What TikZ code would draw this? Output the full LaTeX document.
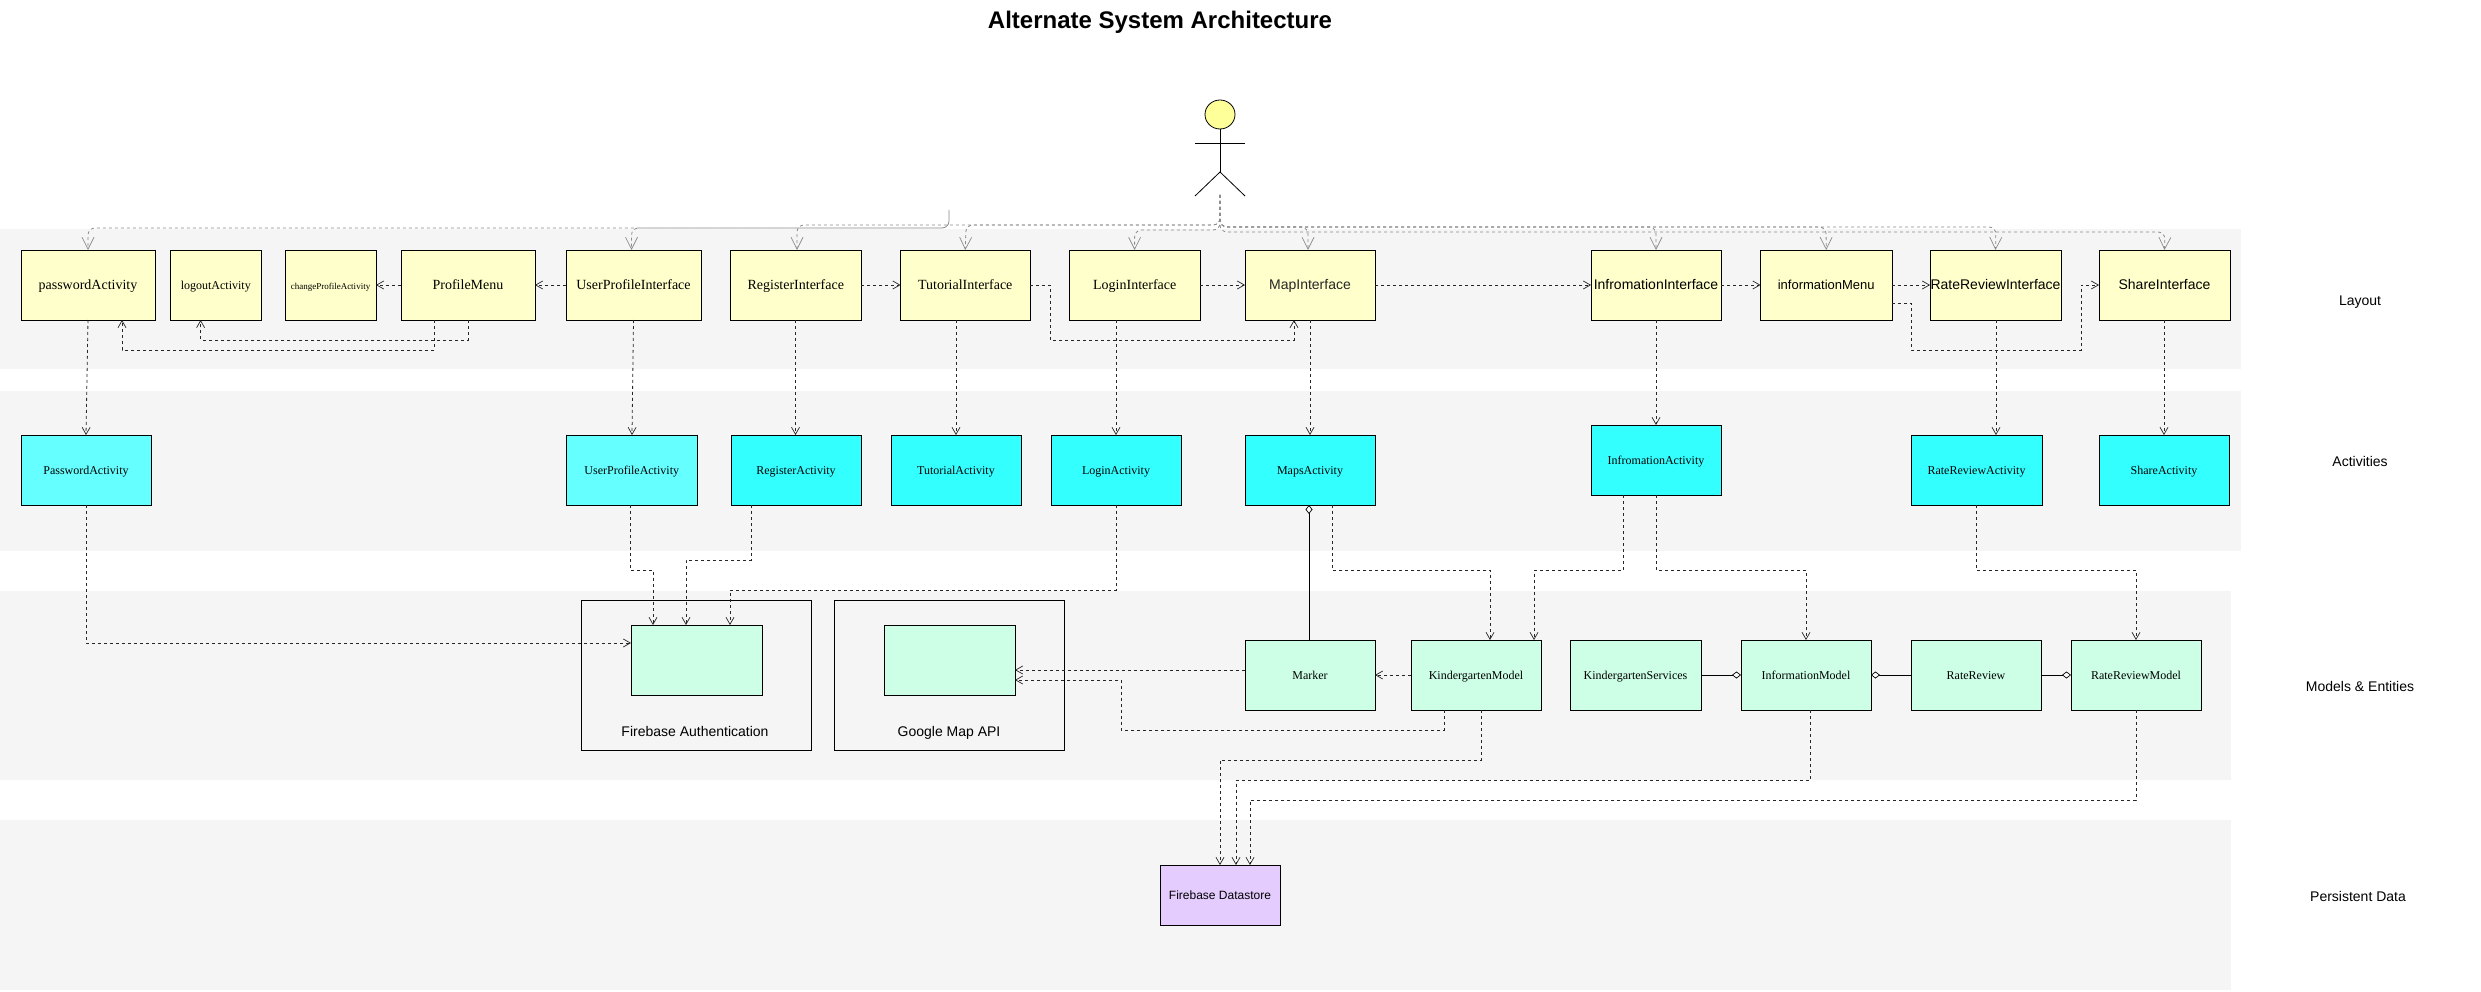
\documentclass[tikz,border=0pt]{standalone}
\usepackage{fontspec}
\setmainfont{Liberation Serif}
\setsansfont{Liberation Sans}
\usetikzlibrary{arrows.meta,shapes.geometric}
\definecolor{bandc}{HTML}{F5F5F5}
\definecolor{yel}{HTML}{FFFFCC}
\definecolor{cyn}{HTML}{33FFFF}
\definecolor{cynl}{HTML}{66FFFF}
\definecolor{grn}{HTML}{CCFFE6}
\definecolor{pur}{HTML}{E5CCFF}
\definecolor{headc}{HTML}{FFFF99}
\definecolor{fang}{HTML}{8C8C8C}
\newcommand\bx[7]{\node[#1,minimum width={(#5-#3)*1pt},minimum height={(#6-#4)*1pt}] (#2) at ({(#3+#5)/2},{(#4+#6)/2}) {#7};}
\newcommand\fsz[1]{\fontsize{#1}{#1}\selectfont}
\tikzset{
  box/.style={draw=black,line width=0.9pt,inner sep=0pt,outer sep=0pt,rectangle,text height=12pt,text depth=3pt},
  ybox/.style={box,fill=yel,font=\fsz{14}},
  cbox/.style={box,fill=cyn,font=\fsz{12},text height=11pt,text depth=3pt},
  lbox/.style={box,fill=cynl,font=\fsz{12},text height=11pt,text depth=3pt},
  gbox/.style={box,fill=grn,font=\fsz{12},text height=11pt,text depth=3pt},
  pbox/.style={box,fill=pur,font=\sffamily\fsz{12},text height=11pt,text depth=3pt},
  sanstxt/.style={font=\sffamily\fsz{14}},
  lane/.style={font=\sffamily\fsz{14},inner sep=0pt,text height=10pt,text depth=3pt},
  frame/.style={draw=black,line width=0.8pt,inner sep=0pt,outer sep=0pt,rectangle},
  dep/.style={draw=black!85,line width=0.8pt,dash pattern=on 3pt off 3pt,-{Straight Barb[length=7pt,width=8pt,line width=0.7pt]}},
  fan/.style={draw=fang,line width=0.8pt,dash pattern=on 3pt off 3pt,rounded corners=7pt,-{Straight Barb[length=12pt,width=12pt,line width=0.7pt]}},
  agg/.style={draw=black,line width=0.9pt,-{Diamond[fill=white,length=9pt,width=7pt,line width=0.7pt]}},
}
\begin{document}
\begin{tikzpicture}[x=1pt,y=-1pt]
\useasboundingbox[fill=white] (0,0) rectangle (2481,992);
% lanes
\fill[bandc] (0,229) rectangle (2241,369);
\fill[bandc] (0,391) rectangle (2241,551);
\fill[bandc] (0,591) rectangle (2231,780);
\fill[bandc] (0,820) rectangle (2231,990);
\node[font=\sffamily\bfseries\fsz{24},inner sep=0pt] (title) at (1160,22) {Alternate System Architecture};
\node[lane] (l1) at (2360,302) {Layout};
\node[lane] (l2) at (2360,463) {Activities};
\node[lane] (l3) at (2360,688) {Models \& Entities};
\node[lane] (l4) at (2358,898) {Persistent Data};
% actor
\node[draw=black,fill=headc,ellipse,line width=0.8pt,inner sep=0pt,minimum width=30pt,minimum height=29pt,outer sep=0pt] (actor) at (1220,114.5) {};
\coordinate (hip) at (1220,172);
\coordinate (af) at (1220,195);
\draw[line width=0.8pt] (actor.south) -- (hip);
\draw[line width=0.8pt] (1195,143) -- (1245,143);
\draw[line width=0.8pt] (1195,196) -- (hip) -- (1245,196);
% row 1
\bx{ybox}{pwi}{21}{250}{155}{320}{passwordActivity}
\bx{ybox,font=\fsz{12}}{logout}{170.5}{250}{261}{320}{logoutActivity}
\bx{ybox,font=\fsz{9}}{chg}{285}{250}{376}{320}{changeProfileActivity}
\bx{ybox}{pm}{401}{250}{535}{320}{ProfileMenu}
\bx{ybox}{upi}{566}{250}{701}{320}{UserProfileInterface}
\bx{ybox}{regi}{730.5}{250}{861}{320}{RegisterInterface}
\bx{ybox}{tuti}{900.5}{250}{1030}{320}{TutorialInterface}
\bx{ybox}{logi}{1069.5}{250}{1200}{320}{LoginInterface}
\bx{ybox,sanstxt,text=black!85}{mapi}{1245}{250}{1375}{320}{MapInterface}
\bx{ybox,sanstxt}{infi}{1591}{250}{1721}{320}{InfromationInterface}
\bx{ybox,sanstxt,font=\sffamily\fsz{13}}{menu}{1760.5}{250}{1892}{320}{informationMenu}
\bx{ybox,sanstxt}{rri}{1930}{250}{2061}{320}{RateReviewInterface}
\bx{ybox,sanstxt}{shi}{2099}{250}{2230}{320}{ShareInterface}
% row 2
\bx{lbox}{pwa}{21}{435}{151}{505}{PasswordActivity}
\bx{lbox}{upa}{566.5}{435}{697}{505}{UserProfileActivity}
\bx{cbox}{rega}{731}{435}{861}{505}{RegisterActivity}
\bx{cbox}{tuta}{891}{435}{1021}{505}{TutorialActivity}
\bx{cbox}{loga}{1051}{435}{1181}{505}{LoginActivity}
\bx{cbox}{mapa}{1245}{435}{1375}{505}{MapsActivity}
\bx{cbox}{infa}{1591}{425}{1721}{495}{InfromationActivity}
\bx{cbox}{rra}{1911}{435}{2042}{505}{RateReviewActivity}
\bx{cbox}{sha}{2099}{435}{2229}{505}{ShareActivity}
% row 3
\bx{frame}{fao}{581.5}{600}{811}{750}{}
\bx{frame}{gmo}{834}{600}{1064}{750}{}
\node[font=\sffamily\fsz{14},inner sep=0pt,text height=10pt,text depth=3pt] (fal) at (695,733) {Firebase Authentication};
\node[font=\sffamily\fsz{14},inner sep=0pt,text height=10pt,text depth=3pt] (gml) at (949,733) {Google Map API};
\bx{gbox}{fa}{631}{625}{762}{695}{}
\bx{gbox}{gm}{884.5}{625}{1015}{695}{}
\bx{gbox}{mk}{1245}{640}{1375}{710}{Marker}
\bx{gbox}{km}{1411}{640}{1541}{710}{KindergartenModel}
\bx{gbox}{ks}{1570}{640}{1701}{710}{KindergartenServices}
\bx{gbox}{im}{1741}{640}{1871}{710}{InformationModel}
\bx{gbox}{rr}{1911}{640}{2041}{710}{RateReview}
\bx{gbox}{rrm}{2071}{640}{2201}{710}{RateReviewModel}
\bx{pbox}{db}{1160}{865}{1280}{925}{Firebase Datastore}
% actor fan
\coordinate (stub) at (949,210);
\draw[fan] (stub) -- (949,228) -- (88,228) -- (pwi.north);
\draw[fan,dash phase=3pt] (stub) -- (949,228) -- (631.5,228) -- (631.5,0 |- upi.north);
\draw[fan] (af) -- (1220,225) -- (797,225) -- (797,0 |- regi.north);
\draw[fan] (af) -- (1220,225) -- (966,225) -- (tuti.north);
\draw[fan] (af) -- (1220,230) -- (1134.6,230) -- (1134.6,0 |- logi.north);
\draw[fan] (af) -- (1220,227) -- (1308,227) -- (1308,0 |- mapi.north);
\draw[fan] (af) -- (1220,227) -- (1656,227) -- (infi.north);
\draw[fan] (af) -- (1220,227) -- (1826,227) -- (menu.north);
\draw[fan] (af) -- (1220,227) -- (1996,227) -- (rri.north);
\draw[fan] (af) -- (1220,232) -- (2165,232) -- (shi.north);
% row 1 dependencies
\draw[dep] (upi.west) -- (pm.east);
\draw[dep] (pm.west) -- (chg.east);
\draw[dep] (468,0 |- pm.south) |- (200.6,340) -- (200.6,0 |- logout.south);
\draw[dep] (434,0 |- pm.south) |- (122,350) -- (122,0 |- pwi.south);
\draw[dep] (regi.east) -- (tuti.west);
\draw[dep] (tuti.east) -| (1050,340) -| (1294,0 |- mapi.south);
\draw[dep] (logi.east) -- (mapi.west);
\draw[dep] (mapi.east) -- (infi.west);
\draw[dep] (infi.east) -- (menu.west);
\draw[dep] (menu.east) -- (rri.west);
\draw[dep] (0,303 -| menu.east) -| (1911,350) -| (2081,285) -- (shi.west);
% layout to activities
\draw[dep] (88,0 |- pwi.south) -- (86,0 |- pwa.north);
\draw[dep] (633.5,0 |- upi.south) -- (632,0 |- upa.north);
\draw[dep] (795.5,0 |- regi.south) -- (795.5,0 |- rega.north);
\draw[dep] (956,0 |- tuti.south) -- (956,0 |- tuta.north);
\draw[dep] (1116,0 |- logi.south) -- (1116,0 |- loga.north);
\draw[dep] (1310,0 |- mapi.south) -- (1310,0 |- mapa.north);
\draw[dep] (1656,0 |- infi.south) -- (1656,0 |- infa.north);
\draw[dep] (1996,0 |- rri.south) -- (1996,0 |- rra.north);
\draw[dep] (2164,0 |- shi.south) -- (2164,0 |- sha.north);
% activities to models
\draw[dep] (86,0 |- pwa.south) |- (0,643 -| fa.west);
\draw[dep] (630,0 |- upa.south) |- (653,570) -- (653,0 |- fa.north);
\draw[dep] (751,0 |- rega.south) |- (686,560) -- (686,0 |- fa.north);
\draw[dep] (1116,0 |- loga.south) |- (730,590) -- (730,0 |- fa.north);
\draw[agg] (1309,0 |- mk.north) -- (1309,0 |- mapa.south);
\draw[dep] (1332,0 |- mapa.south) |- (1490,570) -- (1490,0 |- km.north);
\draw[dep] (1623.5,0 |- infa.south) |- (1534,570) -- (1534,0 |- km.north);
\draw[dep] (1656,0 |- infa.south) |- (1806,570) -- (1806,0 |- im.north);
\draw[dep] (1976,0 |- rra.south) |- (2136,570) -- (2136,0 |- rrm.north);
% models
\draw[dep] (0,670 -| mk.west) -- (0,670 -| gm.east);
\draw[dep] (km.west) -- (mk.east);
\draw[dep] (1444,0 |- km.south) |- (1121,730) |- (0,680 -| gm.east);
\draw[agg] (ks.east) -- (im.west);
\draw[agg] (rr.west) -- (im.east);
\draw[agg] (rr.east) -- (rrm.west);
% to datastore
\draw[dep] (1481,0 |- km.south) |- (1220,760) -- (1220,0 |- db.north);
\draw[dep] (1810.5,0 |- im.south) |- (1236,780) -- (1236,0 |- db.north);
\draw[dep] (2136,0 |- rrm.south) |- (1250,800) -- (1250,0 |- db.north);
\end{tikzpicture}
\end{document}
